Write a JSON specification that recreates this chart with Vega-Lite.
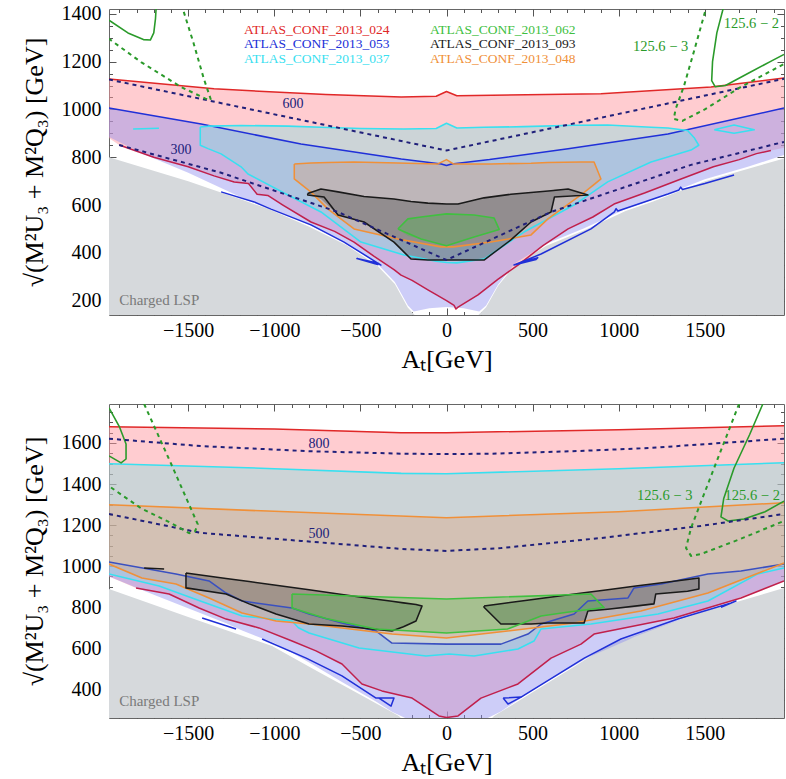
{
"$schema":"https://vega.github.io/schema/vega-lite/v6.json",
"padding":{"left":20,"top":3,"right":0,"bottom":0},
"background":"white",
"spacing":30,
"config":{"view":{"stroke":"#666","strokeWidth":1},"text":{"font":"Liberation Serif"}},
"datasets":{
"tA":[
{"s":"gray","x":-1960,"lo":140,"hi":800},{"s":"gray","x":-1500,"lo":140,"hi":700},{"s":"gray","x":-1200,"lo":140,"hi":625},{"s":"gray","x":-1040,"lo":140,"hi":585},{"s":"gray","x":-800,"lo":140,"hi":510},{"s":"gray","x":-580,"lo":140,"hi":432},{"s":"gray","x":-400,"lo":140,"hi":345},{"s":"gray","x":-300,"lo":140,"hi":270},{"s":"gray","x":-224,"lo":140,"hi":170},{"s":"gray","x":-185,"lo":140,"hi":140},{"s":"gray","x":185,"lo":140,"hi":140},{"s":"gray","x":230,"lo":140,"hi":172},{"s":"gray","x":300,"lo":140,"hi":262},{"s":"gray","x":400,"lo":140,"hi":350},{"s":"gray","x":580,"lo":140,"hi":430},{"s":"gray","x":800,"lo":140,"hi":495},{"s":"gray","x":1040,"lo":140,"hi":575},{"s":"gray","x":1200,"lo":140,"hi":615},{"s":"gray","x":1500,"lo":140,"hi":700},{"s":"gray","x":1960,"lo":140,"hi":795},
{"s":"red","x":-1960,"lo":880,"hi":1127},{"s":"red","x":-1901,"lo":851,"hi":1123},{"s":"red","x":-1700,"lo":800,"hi":1110},{"s":"red","x":-1500,"lo":760,"hi":1096},{"s":"red","x":-1350,"lo":722,"hi":1086},{"s":"red","x":-1233,"lo":696,"hi":1082},{"s":"red","x":-1150,"lo":690,"hi":1079},{"s":"red","x":-1100,"lo":645,"hi":1077},{"s":"red","x":-1038,"lo":640,"hi":1075},{"s":"red","x":-950,"lo":600,"hi":1071},{"s":"red","x":-787,"lo":529,"hi":1065},{"s":"red","x":-650,"lo":490,"hi":1061},{"s":"red","x":-537,"lo":445,"hi":1058},{"s":"red","x":-420,"lo":385,"hi":1055},{"s":"red","x":-305,"lo":330,"hi":1053},{"s":"red","x":-264,"lo":307,"hi":1052},{"s":"red","x":-200,"lo":285,"hi":1053},{"s":"red","x":-108,"lo":245,"hi":1054},{"s":"red","x":-60,"lo":225,"hi":1055},{"s":"red","x":0,"lo":200,"hi":1075},{"s":"red","x":44,"lo":180,"hi":1060},{"s":"red","x":55,"lo":165,"hi":1058},{"s":"red","x":67,"lo":173,"hi":1057},{"s":"red","x":183,"lo":224,"hi":1058},{"s":"red","x":300,"lo":290,"hi":1059},{"s":"red","x":415,"lo":349,"hi":1060},{"s":"red","x":560,"lo":430,"hi":1061},{"s":"red","x":706,"lo":500,"hi":1063},{"s":"red","x":850,"lo":550,"hi":1065},{"s":"red","x":973,"lo":604,"hi":1068},{"s":"red","x":1150,"lo":650,"hi":1076},{"s":"red","x":1362,"lo":709,"hi":1086},{"s":"red","x":1550,"lo":760,"hi":1095},{"s":"red","x":1700,"lo":790,"hi":1108},{"s":"red","x":1800,"lo":815,"hi":1117},{"s":"red","x":1884,"lo":828,"hi":1124},{"s":"red","x":1960,"lo":840,"hi":1131},
{"s":"lav","x":-1960,"lo":885,"hi":1006},{"s":"lav","x":-1750,"lo":810,"hi":980},{"s":"lav","x":-1500,"lo":735,"hi":948},{"s":"lav","x":-1200,"lo":635,"hi":906},{"s":"lav","x":-1040,"lo":593,"hi":883},{"s":"lav","x":-800,"lo":518,"hi":850},{"s":"lav","x":-580,"lo":440,"hi":827},{"s":"lav","x":-400,"lo":353,"hi":808},{"s":"lav","x":-300,"lo":278,"hi":797},{"s":"lav","x":-224,"lo":180,"hi":790},{"s":"lav","x":-190,"lo":155,"hi":786},{"s":"lav","x":-100,"lo":168,"hi":778},{"s":"lav","x":0,"lo":173,"hi":765},{"s":"lav","x":100,"lo":168,"hi":777},{"s":"lav","x":190,"lo":155,"hi":785},{"s":"lav","x":230,"lo":180,"hi":788},{"s":"lav","x":300,"lo":268,"hi":794},{"s":"lav","x":400,"lo":358,"hi":803},{"s":"lav","x":580,"lo":438,"hi":824},{"s":"lav","x":800,"lo":503,"hi":845},{"s":"lav","x":1040,"lo":583,"hi":871},{"s":"lav","x":1200,"lo":623,"hi":888},{"s":"lav","x":1500,"lo":708,"hi":932},{"s":"lav","x":1750,"lo":760,"hi":972},{"s":"lav","x":1960,"lo":809,"hi":1006},
{"s":"cyan","x":-1430,"lo":850,"hi":926},{"s":"cyan","x":-1385,"lo":836,"hi":930},{"s":"cyan","x":-1309,"lo":814,"hi":932},{"s":"cyan","x":-1193,"lo":760,"hi":933},{"s":"cyan","x":-1153,"lo":730,"hi":933},{"s":"cyan","x":-921,"lo":642,"hi":930},{"s":"cyan","x":-729,"lo":571,"hi":925},{"s":"cyan","x":-497,"lo":445,"hi":920},{"s":"cyan","x":-247,"lo":391,"hi":918},{"s":"cyan","x":-60,"lo":365,"hi":920},{"s":"cyan","x":0,"lo":360,"hi":942},{"s":"cyan","x":60,"lo":358,"hi":922},{"s":"cyan","x":218,"lo":374,"hi":925},{"s":"cyan","x":450,"lo":487,"hi":928},{"s":"cyan","x":740,"lo":600,"hi":934},{"s":"cyan","x":936,"lo":697,"hi":935},{"s":"cyan","x":1188,"lo":780,"hi":925},{"s":"cyan","x":1286,"lo":806,"hi":922},{"s":"cyan","x":1400,"lo":826,"hi":912},{"s":"cyan","x":1440,"lo":835,"hi":880},{"s":"cyan","x":1465,"lo":850,"hi":850},
{"s":"orange","x":-884,"lo":709,"hi":772},{"s":"orange","x":-787,"lo":654,"hi":776},{"s":"orange","x":-688,"lo":583,"hi":778},{"s":"orange","x":-537,"lo":500,"hi":780},{"s":"orange","x":-282,"lo":458,"hi":776},{"s":"orange","x":-50,"lo":430,"hi":772},{"s":"orange","x":0,"lo":425,"hi":790},{"s":"orange","x":40,"lo":425,"hi":772},{"s":"orange","x":258,"lo":445,"hi":772},{"s":"orange","x":491,"lo":475,"hi":775},{"s":"orange","x":589,"lo":542,"hi":778},{"s":"orange","x":781,"lo":642,"hi":780},{"s":"orange","x":857,"lo":680,"hi":780},{"s":"orange","x":897,"lo":705,"hi":712},
{"s":"black","x":-806,"lo":642,"hi":648},{"s":"black","x":-729,"lo":625,"hi":667},{"s":"black","x":-630,"lo":558,"hi":655},{"s":"black","x":-479,"lo":529,"hi":636},{"s":"black","x":-305,"lo":445,"hi":625},{"s":"black","x":-206,"lo":374,"hi":615},{"s":"black","x":-108,"lo":370,"hi":608},{"s":"black","x":0,"lo":370,"hi":604},{"s":"black","x":67,"lo":370,"hi":604},{"s":"black","x":218,"lo":370,"hi":630},{"s":"black","x":374,"lo":454,"hi":645},{"s":"black","x":491,"lo":529,"hi":652},{"s":"black","x":607,"lo":571,"hi":660},{"s":"black","x":627,"lo":634,"hi":664},{"s":"black","x":706,"lo":640,"hi":667},{"s":"black","x":821,"lo":642,"hi":644},
{"s":"green","x":-282,"lo":500,"hi":505},{"s":"green","x":-224,"lo":470,"hi":542},{"s":"green","x":-148,"lo":458,"hi":550},{"s":"green","x":0,"lo":430,"hi":563},{"s":"green","x":160,"lo":466,"hi":558},{"s":"green","x":276,"lo":490,"hi":546},{"s":"green","x":306,"lo":496,"hi":500}
],
"tL":[
{"id":"redU","c":"red","x":-1960,"y":1127},{"id":"redU","c":"red","x":-1350,"y":1086},{"id":"redU","c":"red","x":-700,"y":1062},{"id":"redU","c":"red","x":-263,"y":1052},{"id":"redU","c":"red","x":-60,"y":1055},{"id":"redU","c":"red","x":0,"y":1075},{"id":"redU","c":"red","x":60,"y":1057},{"id":"redU","c":"red","x":897,"y":1065},{"id":"redU","c":"red","x":1536,"y":1094},{"id":"redU","c":"red","x":1960,"y":1131},
{"id":"crim","c":"crimson","x":-1901,"y":851},{"id":"crim","c":"crimson","x":-1700,"y":800},{"id":"crim","c":"crimson","x":-1500,"y":760},{"id":"crim","c":"crimson","x":-1350,"y":722},{"id":"crim","c":"crimson","x":-1233,"y":696},{"id":"crim","c":"crimson","x":-1150,"y":690},{"id":"crim","c":"crimson","x":-1100,"y":645},{"id":"crim","c":"crimson","x":-1038,"y":640},{"id":"crim","c":"crimson","x":-950,"y":600},{"id":"crim","c":"crimson","x":-787,"y":529},{"id":"crim","c":"crimson","x":-650,"y":490},{"id":"crim","c":"crimson","x":-537,"y":445},{"id":"crim","c":"crimson","x":-420,"y":385},{"id":"crim","c":"crimson","x":-305,"y":330},{"id":"crim","c":"crimson","x":-264,"y":307},{"id":"crim","c":"crimson","x":-200,"y":285},{"id":"crim","c":"crimson","x":-108,"y":245},{"id":"crim","c":"crimson","x":-60,"y":225},{"id":"crim","c":"crimson","x":0,"y":200},{"id":"crim","c":"crimson","x":44,"y":180},{"id":"crim","c":"crimson","x":55,"y":165},{"id":"crim","c":"crimson","x":67,"y":173},{"id":"crim","c":"crimson","x":183,"y":224},{"id":"crim","c":"crimson","x":300,"y":290},{"id":"crim","c":"crimson","x":415,"y":349},{"id":"crim","c":"crimson","x":560,"y":430},{"id":"crim","c":"crimson","x":706,"y":500},{"id":"crim","c":"crimson","x":850,"y":550},{"id":"crim","c":"crimson","x":973,"y":604},{"id":"crim","c":"crimson","x":1150,"y":650},{"id":"crim","c":"crimson","x":1362,"y":709},{"id":"crim","c":"crimson","x":1550,"y":760},{"id":"crim","c":"crimson","x":1700,"y":790},{"id":"crim","c":"crimson","x":1800,"y":815},{"id":"crim","c":"crimson","x":1884,"y":828},
{"id":"blueU","c":"blue","x":-1960,"y":1006},{"id":"blueU","c":"blue","x":-1425,"y":939},{"id":"blueU","c":"blue","x":-845,"y":855},{"id":"blueU","c":"blue","x":-263,"y":793},{"id":"blueU","c":"blue","x":-30,"y":772},{"id":"blueU","c":"blue","x":0,"y":765},{"id":"blueU","c":"blue","x":30,"y":772},{"id":"blueU","c":"blue","x":250,"y":790},{"id":"blueU","c":"blue","x":706,"y":835},{"id":"blueU","c":"blue","x":1286,"y":897},{"id":"blueU","c":"blue","x":1960,"y":1006},
{"id":"blueL1","c":"blue","x":-1309,"y":655},{"id":"blueL1","c":"blue","x":-1117,"y":613},{"id":"blueL1","c":"blue","x":-1019,"y":583},{"id":"blueL1","c":"blue","x":-787,"y":517},{"id":"blueL1","c":"blue","x":-595,"y":445},{"id":"blueL1","c":"blue","x":-381,"y":349},{"id":"blueL1","c":"blue","x":-400,"y":358},{"id":"blueL1","c":"blue","x":-520,"y":376},{"id":"blueL1","c":"blue","x":-395,"y":350},
{"id":"blueL2","c":"blue","x":400,"y":352},{"id":"blueL2","c":"blue","x":530,"y":380},{"id":"blueL2","c":"blue","x":520,"y":372},{"id":"blueL2","c":"blue","x":392,"y":349},{"id":"blueL2","c":"blue","x":549,"y":395},{"id":"blueL2","c":"blue","x":839,"y":500},{"id":"blueL2","c":"blue","x":975,"y":571},{"id":"blueL2","c":"blue","x":985,"y":585},{"id":"blueL2","c":"blue","x":995,"y":575},{"id":"blueL2","c":"blue","x":1286,"y":646},{"id":"blueL2","c":"blue","x":1350,"y":663},{"id":"blueL2","c":"blue","x":1360,"y":675},{"id":"blueL2","c":"blue","x":1370,"y":665},{"id":"blueL2","c":"blue","x":1500,"y":690},{"id":"blueL2","c":"blue","x":1670,"y":726},
{"id":"cy","c":"cyan","x":-1430,"y":926},{"id":"cy","c":"cyan","x":-1385,"y":930},{"id":"cy","c":"cyan","x":-1193,"y":933},{"id":"cy","c":"cyan","x":-921,"y":930},{"id":"cy","c":"cyan","x":-729,"y":925},{"id":"cy","c":"cyan","x":-497,"y":920},{"id":"cy","c":"cyan","x":-247,"y":918},{"id":"cy","c":"cyan","x":-60,"y":920},{"id":"cy","c":"cyan","x":0,"y":942},{"id":"cy","c":"cyan","x":60,"y":922},{"id":"cy","c":"cyan","x":218,"y":925},{"id":"cy","c":"cyan","x":450,"y":928},{"id":"cy","c":"cyan","x":740,"y":934},{"id":"cy","c":"cyan","x":936,"y":935},{"id":"cy","c":"cyan","x":1188,"y":925},{"id":"cy","c":"cyan","x":1286,"y":922},{"id":"cy","c":"cyan","x":1400,"y":912},{"id":"cy","c":"cyan","x":1440,"y":880},{"id":"cy","c":"cyan","x":1465,"y":850},{"id":"cy","c":"cyan","x":1420,"y":830},{"id":"cy","c":"cyan","x":1188,"y":780},{"id":"cy","c":"cyan","x":936,"y":697},{"id":"cy","c":"cyan","x":740,"y":600},{"id":"cy","c":"cyan","x":450,"y":487},{"id":"cy","c":"cyan","x":218,"y":374},{"id":"cy","c":"cyan","x":60,"y":358},{"id":"cy","c":"cyan","x":0,"y":360},{"id":"cy","c":"cyan","x":-60,"y":365},{"id":"cy","c":"cyan","x":-247,"y":391},{"id":"cy","c":"cyan","x":-497,"y":445},{"id":"cy","c":"cyan","x":-729,"y":571},{"id":"cy","c":"cyan","x":-921,"y":642},{"id":"cy","c":"cyan","x":-1153,"y":730},{"id":"cy","c":"cyan","x":-1193,"y":760},{"id":"cy","c":"cyan","x":-1309,"y":814},{"id":"cy","c":"cyan","x":-1385,"y":836},{"id":"cy","c":"cyan","x":-1430,"y":850},{"id":"cy","c":"cyan","x":-1430,"y":926},
{"id":"cyI1","c":"cyan","x":-1820,"y":918},{"id":"cyI1","c":"cyan","x":-1670,"y":921},
{"id":"cyI2","c":"cyan","x":1555,"y":915},{"id":"cyI2","c":"cyan","x":1670,"y":935},{"id":"cyI2","c":"cyan","x":1787,"y":915},{"id":"cyI2","c":"cyan","x":1670,"y":900},{"id":"cyI2","c":"cyan","x":1555,"y":915},
{"id":"or","c":"orange","x":-884,"y":772},{"id":"or","c":"orange","x":-787,"y":776},{"id":"or","c":"orange","x":-688,"y":778},{"id":"or","c":"orange","x":-537,"y":780},{"id":"or","c":"orange","x":-282,"y":776},{"id":"or","c":"orange","x":-50,"y":772},{"id":"or","c":"orange","x":0,"y":790},{"id":"or","c":"orange","x":40,"y":772},{"id":"or","c":"orange","x":258,"y":772},{"id":"or","c":"orange","x":491,"y":775},{"id":"or","c":"orange","x":589,"y":778},{"id":"or","c":"orange","x":781,"y":780},{"id":"or","c":"orange","x":857,"y":780},{"id":"or","c":"orange","x":897,"y":709},{"id":"or","c":"orange","x":781,"y":642},{"id":"or","c":"orange","x":589,"y":542},{"id":"or","c":"orange","x":491,"y":475},{"id":"or","c":"orange","x":258,"y":445},{"id":"or","c":"orange","x":40,"y":425},{"id":"or","c":"orange","x":-32,"y":425},{"id":"or","c":"orange","x":-282,"y":458},{"id":"or","c":"orange","x":-537,"y":500},{"id":"or","c":"orange","x":-688,"y":583},{"id":"or","c":"orange","x":-787,"y":654},{"id":"or","c":"orange","x":-884,"y":709},{"id":"or","c":"orange","x":-884,"y":772},
{"id":"bk","c":"black","x":-806,"y":648},{"id":"bk","c":"black","x":-729,"y":667},{"id":"bk","c":"black","x":-630,"y":655},{"id":"bk","c":"black","x":-479,"y":636},{"id":"bk","c":"black","x":-305,"y":625},{"id":"bk","c":"black","x":-206,"y":615},{"id":"bk","c":"black","x":-108,"y":608},{"id":"bk","c":"black","x":0,"y":604},{"id":"bk","c":"black","x":67,"y":604},{"id":"bk","c":"black","x":218,"y":630},{"id":"bk","c":"black","x":374,"y":645},{"id":"bk","c":"black","x":491,"y":652},{"id":"bk","c":"black","x":607,"y":660},{"id":"bk","c":"black","x":706,"y":667},{"id":"bk","c":"black","x":821,"y":642},{"id":"bk","c":"black","x":627,"y":634},{"id":"bk","c":"black","x":607,"y":571},{"id":"bk","c":"black","x":491,"y":529},{"id":"bk","c":"black","x":374,"y":454},{"id":"bk","c":"black","x":218,"y":370},{"id":"bk","c":"black","x":67,"y":370},{"id":"bk","c":"black","x":-108,"y":370},{"id":"bk","c":"black","x":-206,"y":374},{"id":"bk","c":"black","x":-305,"y":445},{"id":"bk","c":"black","x":-479,"y":529},{"id":"bk","c":"black","x":-630,"y":558},{"id":"bk","c":"black","x":-711,"y":634},{"id":"bk","c":"black","x":-806,"y":642},{"id":"bk","c":"black","x":-806,"y":648},
{"id":"gr","c":"green","x":-282,"y":500},{"id":"gr","c":"green","x":-224,"y":542},{"id":"gr","c":"green","x":-148,"y":550},{"id":"gr","c":"green","x":0,"y":563},{"id":"gr","c":"green","x":160,"y":558},{"id":"gr","c":"green","x":276,"y":546},{"id":"gr","c":"green","x":306,"y":498},{"id":"gr","c":"green","x":160,"y":466},{"id":"gr","c":"green","x":0,"y":430},{"id":"gr","c":"green","x":-148,"y":458},{"id":"gr","c":"green","x":-282,"y":500},
{"id":"n600","c":"navy","x":-1960,"y":1125},{"id":"n600","c":"navy","x":0,"y":828},{"id":"n600","c":"navy","x":1960,"y":1128},
{"id":"n300","c":"navy","x":-1901,"y":851},{"id":"n300","c":"navy","x":-1309,"y":735},{"id":"n300","c":"navy","x":-631,"y":571},{"id":"n300","c":"navy","x":0,"y":370},{"id":"n300","c":"navy","x":607,"y":571},{"id":"n300","c":"navy","x":1420,"y":768},{"id":"n300","c":"navy","x":1960,"y":864},
{"id":"h2L","c":"hg2","x":-1960,"y":1373},{"id":"h2L","c":"hg2","x":-1850,"y":1320},{"id":"h2L","c":"hg2","x":-1760,"y":1292},{"id":"h2L","c":"hg2","x":-1720,"y":1290},{"id":"h2L","c":"hg2","x":-1700,"y":1320},{"id":"h2L","c":"hg2","x":-1690,"y":1380},{"id":"h2L","c":"hg2","x":-1685,"y":1440},
{"id":"h3L","c":"hg3","x":-1540,"y":1440},{"id":"h3L","c":"hg3","x":-1531,"y":1420},{"id":"h3L","c":"hg3","x":-1470,"y":1280},{"id":"h3L","c":"hg3","x":-1410,"y":1130},{"id":"h3L","c":"hg3","x":-1368,"y":1040},{"id":"h3L","c":"hg3","x":-1400,"y":1045},{"id":"h3L","c":"hg3","x":-1542,"y":1094},{"id":"h3L","c":"hg3","x":-1774,"y":1198},{"id":"h3L","c":"hg3","x":-1960,"y":1295},
{"id":"h2R","c":"hg2","x":1612,"y":1440},{"id":"h2R","c":"hg2","x":1606,"y":1420},{"id":"h2R","c":"hg2","x":1570,"y":1320},{"id":"h2R","c":"hg2","x":1545,"y":1200},{"id":"h2R","c":"hg2","x":1540,"y":1120},{"id":"h2R","c":"hg2","x":1560,"y":1095},{"id":"h2R","c":"hg2","x":1620,"y":1100},{"id":"h2R","c":"hg2","x":1750,"y":1150},{"id":"h2R","c":"hg2","x":1880,"y":1200},{"id":"h2R","c":"hg2","x":1960,"y":1230},
{"id":"h3R","c":"hg3","x":1512,"y":1440},{"id":"h3R","c":"hg3","x":1506,"y":1420},{"id":"h3R","c":"hg3","x":1440,"y":1250},{"id":"h3R","c":"hg3","x":1380,"y":1100},{"id":"h3R","c":"hg3","x":1330,"y":1000},{"id":"h3R","c":"hg3","x":1320,"y":960},{"id":"h3R","c":"hg3","x":1370,"y":952},{"id":"h3R","c":"hg3","x":1500,"y":1000},{"id":"h3R","c":"hg3","x":1700,"y":1090},{"id":"h3R","c":"hg3","x":1960,"y":1190}
],
"tT":[
{"t":"ATLAS_CONF_2013_024","c":"red","k":"leg","x":-1176,"y":1332},
{"t":"ATLAS_CONF_2013_053","c":"blue","k":"leg","x":-1176,"y":1272},
{"t":"ATLAS_CONF_2013_037","c":"cyan","k":"leg","x":-1176,"y":1212},
{"t":"ATLAS_CONF_2013_062","c":"green","k":"leg","x":-96,"y":1332},
{"t":"ATLAS_CONF_2013_093","c":"black","k":"leg","x":-96,"y":1272},
{"t":"ATLAS_CONF_2013_048","c":"orange","k":"leg","x":-96,"y":1212},
{"t":"600","c":"navy","k":"lab","x":-952,"y":1023},
{"t":"300","c":"navy","k":"lab","x":-1603,"y":830},
{"t":"125.6 − 2","c":"hg2","k":"hg","x":1610,"y":1358},
{"t":"125.6 − 3","c":"hg3","k":"hg","x":1083,"y":1261},
{"t":"Charged LSP","c":"lsp","k":"lsp","x":-1901,"y":203}
],
"bA":[
{"s":"gray","x":-1960,"lo":260,"hi":889},{"s":"gray","x":-1500,"lo":260,"hi":752},{"s":"gray","x":-1013,"lo":260,"hi":611},{"s":"gray","x":-750,"lo":260,"hi":488},{"s":"gray","x":-500,"lo":260,"hi":373},{"s":"gray","x":-276,"lo":260,"hi":270},{"s":"gray","x":-265,"lo":260,"hi":260},{"s":"gray","x":265,"lo":260,"hi":260},{"s":"gray","x":276,"lo":260,"hi":270},{"s":"gray","x":500,"lo":260,"hi":385},{"s":"gray","x":750,"lo":260,"hi":515},{"s":"gray","x":936,"lo":260,"hi":615},{"s":"gray","x":1200,"lo":260,"hi":695},{"s":"gray","x":1500,"lo":260,"hi":780},{"s":"gray","x":1960,"lo":260,"hi":893},
{"s":"red","x":-1960,"lo":950,"hi":1679},{"s":"red","x":-1803,"lo":894,"hi":1677},{"s":"red","x":-1611,"lo":864,"hi":1675},{"s":"red","x":-1437,"lo":796,"hi":1673},{"s":"red","x":-1280,"lo":742,"hi":1671},{"s":"red","x":-1089,"lo":699,"hi":1669},{"s":"red","x":-897,"lo":635,"hi":1666},{"s":"red","x":-758,"lo":587,"hi":1664},{"s":"red","x":-607,"lo":523,"hi":1661},{"s":"red","x":-491,"lo":426,"hi":1658},{"s":"red","x":-375,"lo":392,"hi":1655},{"s":"red","x":-200,"lo":357,"hi":1652},{"s":"red","x":-44,"lo":270,"hi":1650},{"s":"red","x":0,"lo":262,"hi":1650},{"s":"red","x":67,"lo":270,"hi":1650},{"s":"red","x":200,"lo":357,"hi":1652},{"s":"red","x":415,"lo":426,"hi":1655},{"s":"red","x":607,"lo":552,"hi":1659},{"s":"red","x":781,"lo":620,"hi":1662},{"s":"red","x":857,"lo":669,"hi":1663},{"s":"red","x":1031,"lo":699,"hi":1666},{"s":"red","x":1321,"lo":747,"hi":1672},{"s":"red","x":1710,"lo":845,"hi":1679},{"s":"red","x":1960,"lo":928,"hi":1684},
{"s":"lav","x":-1960,"lo":950,"hi":1020},{"s":"lav","x":-1700,"lo":860,"hi":982},{"s":"lav","x":-1571,"lo":818,"hi":962},{"s":"lav","x":-1379,"lo":755,"hi":928},{"s":"lav","x":-1280,"lo":722,"hi":869},{"s":"lav","x":-1187,"lo":686,"hi":830},{"s":"lav","x":-1000,"lo":625,"hi":808},{"s":"lav","x":-897,"lo":578,"hi":796},{"s":"lav","x":-798,"lo":530,"hi":767},{"s":"lav","x":-607,"lo":435,"hi":723},{"s":"lav","x":-410,"lo":340,"hi":684},{"s":"lav","x":-317,"lo":290,"hi":625},{"s":"lav","x":-240,"lo":260,"hi":622},{"s":"lav","x":0,"lo":260,"hi":620},{"s":"lav","x":240,"lo":260,"hi":620},{"s":"lav","x":316,"lo":292,"hi":620},{"s":"lav","x":473,"lo":380,"hi":669},{"s":"lav","x":549,"lo":420,"hi":718},{"s":"lav","x":741,"lo":515,"hi":767},{"s":"lav","x":821,"lo":555,"hi":830},{"s":"lav","x":1054,"lo":640,"hi":845},{"s":"lav","x":1089,"lo":655,"hi":894},{"s":"lav","x":1246,"lo":705,"hi":913},{"s":"lav","x":1518,"lo":790,"hi":962},{"s":"lav","x":1710,"lo":850,"hi":976},{"s":"lav","x":1960,"lo":928,"hi":1010},
{"s":"cyan","x":-1960,"lo":962,"hi":1499},{"s":"cyan","x":-1669,"lo":903,"hi":1492},{"s":"cyan","x":-1478,"lo":845,"hi":1487},{"s":"cyan","x":-1187,"lo":757,"hi":1479},{"s":"cyan","x":-897,"lo":733,"hi":1472},{"s":"cyan","x":-860,"lo":700,"hi":1471},{"s":"cyan","x":-798,"lo":674,"hi":1469},{"s":"cyan","x":-508,"lo":601,"hi":1462},{"s":"cyan","x":-119,"lo":562,"hi":1452},{"s":"cyan","x":15,"lo":572,"hi":1450},{"s":"cyan","x":160,"lo":562,"hi":1452},{"s":"cyan","x":415,"lo":596,"hi":1458},{"s":"cyan","x":508,"lo":635,"hi":1461},{"s":"cyan","x":549,"lo":694,"hi":1462},{"s":"cyan","x":839,"lo":718,"hi":1470},{"s":"cyan","x":1228,"lo":767,"hi":1480},{"s":"cyan","x":1518,"lo":830,"hi":1490},{"s":"cyan","x":1808,"lo":962,"hi":1500},{"s":"cyan","x":1960,"lo":991,"hi":1504},
{"s":"orange","x":-1960,"lo":1010,"hi":1299},{"s":"orange","x":-1769,"lo":942,"hi":1294},{"s":"orange","x":-1571,"lo":913,"hi":1288},{"s":"orange","x":-1379,"lo":845,"hi":1282},{"s":"orange","x":-1187,"lo":772,"hi":1275},{"s":"orange","x":-990,"lo":733,"hi":1267},{"s":"orange","x":-798,"lo":718,"hi":1261},{"s":"orange","x":-607,"lo":699,"hi":1254},{"s":"orange","x":-317,"lo":669,"hi":1243},{"s":"orange","x":0,"lo":650,"hi":1236},{"s":"orange","x":355,"lo":684,"hi":1244},{"s":"orange","x":741,"lo":723,"hi":1256},{"s":"orange","x":1129,"lo":781,"hi":1270},{"s":"orange","x":1518,"lo":869,"hi":1288},{"s":"orange","x":1960,"lo":1015,"hi":1309},
{"s":"b1","x":-1513,"lo":894,"hi":967},{"s":"b1","x":-1280,"lo":864,"hi":940},{"s":"b1","x":-1146,"lo":816,"hi":925},{"s":"b1","x":-990,"lo":767,"hi":907},{"s":"b1","x":-798,"lo":718,"hi":885},{"s":"b1","x":-607,"lo":708,"hi":862},{"s":"b1","x":-450,"lo":695,"hi":844},{"s":"b1","x":-317,"lo":684,"hi":829},{"s":"b1","x":-250,"lo":705,"hi":821},{"s":"b1","x":-177,"lo":733,"hi":813},{"s":"b1","x":-142,"lo":800,"hi":806},
{"s":"b2","x":218,"lo":800,"hi":806},{"s":"b2","x":316,"lo":718,"hi":817},{"s":"b2","x":491,"lo":718,"hi":836},{"s":"b2","x":589,"lo":723,"hi":847},{"s":"b2","x":799,"lo":723,"hi":870},{"s":"b2","x":821,"lo":781,"hi":872},{"s":"b2","x":936,"lo":790,"hi":885},{"s":"b2","x":1100,"lo":800,"hi":903},{"s":"b2","x":1205,"lo":816,"hi":914},{"s":"b2","x":1215,"lo":864,"hi":915},{"s":"b2","x":1400,"lo":878,"hi":935},{"s":"b2","x":1466,"lo":889,"hi":942},
{"s":"green","x":-897,"lo":796,"hi":864},{"s":"green","x":-700,"lo":745,"hi":858},{"s":"green","x":-409,"lo":694,"hi":850},{"s":"green","x":0,"lo":674,"hi":840},{"s":"green","x":355,"lo":694,"hi":846},{"s":"green","x":549,"lo":757,"hi":855},{"s":"green","x":700,"lo":775,"hi":860},{"s":"green","x":839,"lo":782,"hi":864},{"s":"green","x":915,"lo":796,"hi":798}
],
"bL":[
{"id":"redU","c":"red","x":-1960,"y":1679},{"id":"redU","c":"red","x":-1000,"y":1668},{"id":"redU","c":"red","x":-264,"y":1650},{"id":"redU","c":"red","x":0,"y":1650},{"id":"redU","c":"red","x":1000,"y":1665},{"id":"redU","c":"red","x":1960,"y":1684},
{"id":"crim","c":"crimson","x":-1803,"y":894},{"id":"crim","c":"crimson","x":-1611,"y":864},{"id":"crim","c":"crimson","x":-1437,"y":796},{"id":"crim","c":"crimson","x":-1280,"y":742},{"id":"crim","c":"crimson","x":-1089,"y":699},{"id":"crim","c":"crimson","x":-897,"y":635},{"id":"crim","c":"crimson","x":-758,"y":587},{"id":"crim","c":"crimson","x":-607,"y":523},{"id":"crim","c":"crimson","x":-491,"y":426},{"id":"crim","c":"crimson","x":-375,"y":392},{"id":"crim","c":"crimson","x":-200,"y":357},{"id":"crim","c":"crimson","x":-44,"y":270},{"id":"crim","c":"crimson","x":0,"y":262},{"id":"crim","c":"crimson","x":67,"y":270},{"id":"crim","c":"crimson","x":200,"y":357},{"id":"crim","c":"crimson","x":415,"y":426},{"id":"crim","c":"crimson","x":607,"y":552},{"id":"crim","c":"crimson","x":781,"y":620},{"id":"crim","c":"crimson","x":857,"y":669},{"id":"crim","c":"crimson","x":1031,"y":699},{"id":"crim","c":"crimson","x":1321,"y":747},{"id":"crim","c":"crimson","x":1710,"y":845},{"id":"crim","c":"crimson","x":1960,"y":928},
{"id":"blueU","c":"blue2","x":-1960,"y":1020},{"id":"blueU","c":"blue2","x":-1571,"y":962},{"id":"blueU","c":"blue2","x":-1379,"y":928},{"id":"blueU","c":"blue2","x":-1280,"y":869},{"id":"blueU","c":"blue2","x":-1187,"y":830},{"id":"blueU","c":"blue2","x":-897,"y":796},{"id":"blueU","c":"blue2","x":-798,"y":767},{"id":"blueU","c":"blue2","x":-607,"y":723},{"id":"blueU","c":"blue2","x":-410,"y":684},{"id":"blueU","c":"blue2","x":-317,"y":625},{"id":"blueU","c":"blue2","x":0,"y":620},{"id":"blueU","c":"blue2","x":316,"y":620},{"id":"blueU","c":"blue2","x":473,"y":669},{"id":"blueU","c":"blue2","x":549,"y":718},{"id":"blueU","c":"blue2","x":741,"y":767},{"id":"blueU","c":"blue2","x":821,"y":830},{"id":"blueU","c":"blue2","x":1054,"y":845},{"id":"blueU","c":"blue2","x":1089,"y":894},{"id":"blueU","c":"blue2","x":1246,"y":913},{"id":"blueU","c":"blue2","x":1518,"y":962},{"id":"blueU","c":"blue2","x":1710,"y":976},{"id":"blueU","c":"blue2","x":1960,"y":1010},
{"id":"bl1","c":"blue","x":-1419,"y":747},{"id":"bl1","c":"blue","x":-1222,"y":694},
{"id":"bl2","c":"blue","x":-1071,"y":645},{"id":"bl2","c":"blue","x":-815,"y":552},{"id":"bl2","c":"blue","x":-607,"y":465},{"id":"bl2","c":"blue","x":-409,"y":357},{"id":"bl2","c":"blue","x":-305,"y":357},{"id":"bl2","c":"blue","x":-322,"y":318},{"id":"bl2","c":"blue","x":-392,"y":357},
{"id":"bl3","c":"blue","x":329,"y":357},{"id":"bl3","c":"blue","x":433,"y":362},{"id":"bl3","c":"blue","x":357,"y":328},{"id":"bl3","c":"blue","x":329,"y":357},
{"id":"bl4","c":"blue","x":433,"y":362},{"id":"bl4","c":"blue","x":800,"y":552},{"id":"bl4","c":"blue","x":1013,"y":645},{"id":"bl4","c":"blue","x":1343,"y":742},{"id":"bl4","c":"blue","x":1652,"y":820},{"id":"bl4","c":"blue","x":1681,"y":830},{"id":"bl4","c":"blue","x":1594,"y":800},
{"id":"cyU","c":"cyan","x":-1960,"y":1499},{"id":"cyU","c":"cyan","x":-1000,"y":1475},{"id":"cyU","c":"cyan","x":-264,"y":1452},{"id":"cyU","c":"cyan","x":0,"y":1450},{"id":"cyU","c":"cyan","x":1000,"y":1475},{"id":"cyU","c":"cyan","x":1960,"y":1504},
{"id":"cyL","c":"cyan","x":-1960,"y":962},{"id":"cyL","c":"cyan","x":-1669,"y":903},{"id":"cyL","c":"cyan","x":-1478,"y":845},{"id":"cyL","c":"cyan","x":-1187,"y":757},{"id":"cyL","c":"cyan","x":-897,"y":733},{"id":"cyL","c":"cyan","x":-860,"y":700},{"id":"cyL","c":"cyan","x":-798,"y":674},{"id":"cyL","c":"cyan","x":-508,"y":601},{"id":"cyL","c":"cyan","x":-119,"y":562},{"id":"cyL","c":"cyan","x":15,"y":572},{"id":"cyL","c":"cyan","x":160,"y":562},{"id":"cyL","c":"cyan","x":415,"y":596},{"id":"cyL","c":"cyan","x":508,"y":635},{"id":"cyL","c":"cyan","x":549,"y":694},{"id":"cyL","c":"cyan","x":839,"y":718},{"id":"cyL","c":"cyan","x":1228,"y":767},{"id":"cyL","c":"cyan","x":1518,"y":830},{"id":"cyL","c":"cyan","x":1808,"y":962},{"id":"cyL","c":"cyan","x":1960,"y":991},
{"id":"orU","c":"orange","x":-1960,"y":1299},{"id":"orU","c":"orange","x":-1000,"y":1267},{"id":"orU","c":"orange","x":0,"y":1236},{"id":"orU","c":"orange","x":1000,"y":1265},{"id":"orU","c":"orange","x":1960,"y":1309},
{"id":"orL","c":"orange","x":-1960,"y":1010},{"id":"orL","c":"orange","x":-1769,"y":942},{"id":"orL","c":"orange","x":-1571,"y":913},{"id":"orL","c":"orange","x":-1379,"y":845},{"id":"orL","c":"orange","x":-1187,"y":772},{"id":"orL","c":"orange","x":-990,"y":733},{"id":"orL","c":"orange","x":-798,"y":718},{"id":"orL","c":"orange","x":-607,"y":699},{"id":"orL","c":"orange","x":-317,"y":669},{"id":"orL","c":"orange","x":0,"y":650},{"id":"orL","c":"orange","x":355,"y":684},{"id":"orL","c":"orange","x":741,"y":723},{"id":"orL","c":"orange","x":1129,"y":781},{"id":"orL","c":"orange","x":1518,"y":869},{"id":"orL","c":"orange","x":1960,"y":1015},
{"id":"b1","c":"black","x":-1513,"y":967},{"id":"b1","c":"black","x":-1280,"y":940},{"id":"b1","c":"black","x":-1146,"y":925},{"id":"b1","c":"black","x":-990,"y":907},{"id":"b1","c":"black","x":-798,"y":885},{"id":"b1","c":"black","x":-607,"y":862},{"id":"b1","c":"black","x":-450,"y":844},{"id":"b1","c":"black","x":-317,"y":829},{"id":"b1","c":"black","x":-250,"y":821},{"id":"b1","c":"black","x":-177,"y":813},{"id":"b1","c":"black","x":-142,"y":806},{"id":"b1","c":"black","x":-177,"y":733},{"id":"b1","c":"black","x":-250,"y":705},{"id":"b1","c":"black","x":-317,"y":684},{"id":"b1","c":"black","x":-450,"y":695},{"id":"b1","c":"black","x":-607,"y":708},{"id":"b1","c":"black","x":-798,"y":718},{"id":"b1","c":"black","x":-990,"y":767},{"id":"b1","c":"black","x":-1146,"y":816},{"id":"b1","c":"black","x":-1280,"y":864},{"id":"b1","c":"black","x":-1513,"y":894},{"id":"b1","c":"black","x":-1513,"y":967},
{"id":"b2","c":"black","x":218,"y":806},{"id":"b2","c":"black","x":316,"y":817},{"id":"b2","c":"black","x":491,"y":836},{"id":"b2","c":"black","x":589,"y":847},{"id":"b2","c":"black","x":799,"y":870},{"id":"b2","c":"black","x":936,"y":885},{"id":"b2","c":"black","x":1100,"y":903},{"id":"b2","c":"black","x":1205,"y":914},{"id":"b2","c":"black","x":1400,"y":935},{"id":"b2","c":"black","x":1466,"y":942},{"id":"b2","c":"black","x":1466,"y":889},{"id":"b2","c":"black","x":1400,"y":878},{"id":"b2","c":"black","x":1215,"y":864},{"id":"b2","c":"black","x":1205,"y":816},{"id":"b2","c":"black","x":936,"y":790},{"id":"b2","c":"black","x":821,"y":781},{"id":"b2","c":"black","x":799,"y":723},{"id":"b2","c":"black","x":589,"y":723},{"id":"b2","c":"black","x":491,"y":718},{"id":"b2","c":"black","x":316,"y":718},{"id":"b2","c":"black","x":218,"y":800},{"id":"b2","c":"black","x":218,"y":806},
{"id":"b3","c":"black","x":-1756,"y":991},{"id":"b3","c":"black","x":-1640,"y":986},
{"id":"gr","c":"green","x":-897,"y":864},{"id":"gr","c":"green","x":0,"y":840},{"id":"gr","c":"green","x":839,"y":864},{"id":"gr","c":"green","x":915,"y":798},{"id":"gr","c":"green","x":700,"y":775},{"id":"gr","c":"green","x":549,"y":757},{"id":"gr","c":"green","x":355,"y":694},{"id":"gr","c":"green","x":0,"y":674},{"id":"gr","c":"green","x":-409,"y":694},{"id":"gr","c":"green","x":-700,"y":745},{"id":"gr","c":"green","x":-897,"y":796},{"id":"gr","c":"green","x":-897,"y":864},
{"id":"n800","c":"navy","x":-1960,"y":1621},{"id":"n800","c":"navy","x":-1426,"y":1585},{"id":"n800","c":"navy","x":-800,"y":1560},{"id":"n800","c":"navy","x":-264,"y":1548},{"id":"n800","c":"navy","x":0,"y":1546},{"id":"n800","c":"navy","x":264,"y":1548},{"id":"n800","c":"navy","x":800,"y":1562},{"id":"n800","c":"navy","x":1188,"y":1576},{"id":"n800","c":"navy","x":1426,"y":1590},{"id":"n800","c":"navy","x":1960,"y":1621},
{"id":"n500","c":"navy","x":-1960,"y":1254},{"id":"n500","c":"navy","x":-1426,"y":1162},{"id":"n500","c":"navy","x":-845,"y":1123},{"id":"n500","c":"navy","x":-264,"y":1084},{"id":"n500","c":"navy","x":0,"y":1074},{"id":"n500","c":"navy","x":316,"y":1088},{"id":"n500","c":"navy","x":897,"y":1137},{"id":"n500","c":"navy","x":1478,"y":1196},{"id":"n500","c":"navy","x":1960,"y":1254},
{"id":"h2L","c":"hg2","x":-1960,"y":1771},{"id":"h2L","c":"hg2","x":-1900,"y":1680},{"id":"h2L","c":"hg2","x":-1861,"y":1595},{"id":"h2L","c":"hg2","x":-1861,"y":1522},{"id":"h2L","c":"hg2","x":-1890,"y":1503},{"id":"h2L","c":"hg2","x":-1960,"y":1537},
{"id":"h3L","c":"hg3","x":-1756,"y":1790},{"id":"h3L","c":"hg3","x":-1600,"y":1500},{"id":"h3L","c":"hg3","x":-1445,"y":1205},{"id":"h3L","c":"hg3","x":-1460,"y":1170},{"id":"h3L","c":"hg3","x":-1494,"y":1161},{"id":"h3L","c":"hg3","x":-1600,"y":1210},{"id":"h3L","c":"hg3","x":-1774,"y":1282},{"id":"h3L","c":"hg3","x":-1960,"y":1390},
{"id":"h2R","c":"hg2","x":1837,"y":1790},{"id":"h2R","c":"hg2","x":1760,"y":1640},{"id":"h2R","c":"hg2","x":1670,"y":1478},{"id":"h2R","c":"hg2","x":1610,"y":1330},{"id":"h2R","c":"hg2","x":1594,"y":1240},{"id":"h2R","c":"hg2","x":1635,"y":1220},{"id":"h2R","c":"hg2","x":1728,"y":1230},{"id":"h2R","c":"hg2","x":1850,"y":1265},{"id":"h2R","c":"hg2","x":1960,"y":1317},
{"id":"h3R","c":"hg3","x":1699,"y":1790},{"id":"h3R","c":"hg3","x":1554,"y":1478},{"id":"h3R","c":"hg3","x":1420,"y":1186},{"id":"h3R","c":"hg3","x":1391,"y":1088},{"id":"h3R","c":"hg3","x":1420,"y":1050},{"id":"h3R","c":"hg3","x":1478,"y":1059},{"id":"h3R","c":"hg3","x":1700,"y":1130},{"id":"h3R","c":"hg3","x":1960,"y":1220}
],
"bT":[
{"t":"800","c":"navy","k":"lab","x":-801,"y":1595},
{"t":"500","c":"navy","k":"lab","x":-801,"y":1157},
{"t":"125.6 − 3","c":"hg3","k":"hg","x":1107,"y":1342},
{"t":"125.6 − 2","c":"hg2","k":"hg","x":1615,"y":1342},
{"t":"Charged LSP","c":"lsp","k":"lsp","x":-1901,"y":343}
]
},
"vconcat":[
{"width":675,"height":306,
"resolve":{"axis":{"x":"independent","y":"independent"}},
"layer":[
{"data":{"name":"tA"},"transform":[{"filter":"datum.s=='gray'"}],"mark":{"type":"area","fill":"#d6d9dc","clip":true},
"encoding":{"x":{"field":"x","type":"quantitative","scale":{"domain":[-1960,1960],"nice":false,"zero":false},
"axis":{"orient":"bottom","values":[-1500,-1000,-500,0,500,1000,1500],"format":"d","title":"Aₜ[GeV]","domain":false,"grid":false,"tickSize":-7,"tickColor":"#555","labelPadding":12,"labelFont":"Liberation Serif","labelFontSize":20,"labelColor":"#000","titleFont":"Liberation Serif","titleFontSize":26,"titleFontWeight":"normal","titleColor":"#000","titlePadding":6,"labelFlush":false,"labelOverlap":false}},
"y":{"field":"hi","type":"quantitative","scale":{"domain":[140,1420],"nice":false,"zero":false},
"axis":{"orient":"left","values":[200,400,600,800,1000,1200,1400],"format":"d","title":"√(M²U₃ + M²Q₃) [GeV]","domain":false,"grid":false,"tickSize":-7,"tickColor":"#555","labelPadding":15,"labelFont":"Liberation Serif","labelFontSize":20,"labelColor":"#000","titleFont":"Liberation Serif","titleFontSize":26,"titleFontWeight":"normal","titleColor":"#000","titlePadding":14,"labelFlush":false,"labelOverlap":false}},
"y2":{"field":"lo"}}},
{"data":{"name":"tA"},"transform":[{"filter":"datum.s=='red'"}],"mark":{"type":"area","fill":"#ff9aa2","fillOpacity":0.5,"clip":true},
"encoding":{"x":{"field":"x","type":"quantitative","scale":{"domain":[-1960,1960],"nice":false,"zero":false},
"axis":{"orient":"bottom","values":[-1900,-1800,-1700,-1600,-1400,-1300,-1200,-1100,-900,-800,-700,-600,-400,-300,-200,-100,100,200,300,400,600,700,800,900,1100,1200,1300,1400,1600,1700,1800,1900],"labels":false,"domain":false,"grid":false,"tickSize":-3.5,"tickColor":"#555","title":null}},
"y":{"field":"hi","type":"quantitative","scale":{"domain":[140,1420],"nice":false,"zero":false},
"axis":{"orient":"left","values":[150,250,300,350,450,500,550,650,700,750,850,900,950,1050,1100,1150,1250,1300,1350],"labels":false,"domain":false,"grid":false,"tickSize":-3.5,"tickColor":"#555","title":null}},
"y2":{"field":"lo"}}},
{"data":{"name":"tA"},"transform":[{"filter":"datum.s=='lav'"}],"mark":{"type":"area","fill":"#9090f0","fillOpacity":0.45,"clip":true},
"encoding":{"x":{"field":"x","type":"quantitative","scale":{"domain":[-1960,1960],"nice":false,"zero":false},
"axis":{"orient":"top","values":[-1500,-1000,-500,0,500,1000,1500],"labels":false,"domain":false,"grid":false,"tickSize":-7,"tickColor":"#555","title":null}},
"y":{"field":"hi","type":"quantitative","scale":{"domain":[140,1420],"nice":false,"zero":false},
"axis":{"orient":"right","values":[200,400,600,800,1000,1200,1400],"labels":false,"domain":false,"grid":false,"tickSize":-7,"tickColor":"#555","title":null}},
"y2":{"field":"lo"}}},
{"data":{"name":"tA"},"transform":[{"filter":"datum.s=='cyan'"}],"mark":{"type":"area","fill":"#80e0e0","fillOpacity":0.4,"clip":true},
"encoding":{"x":{"field":"x","type":"quantitative","scale":{"domain":[-1960,1960],"nice":false,"zero":false},
"axis":{"orient":"top","values":[-1900,-1800,-1700,-1600,-1400,-1300,-1200,-1100,-900,-800,-700,-600,-400,-300,-200,-100,100,200,300,400,600,700,800,900,1100,1200,1300,1400,1600,1700,1800,1900],"labels":false,"domain":false,"grid":false,"tickSize":-3.5,"tickColor":"#555","title":null}},
"y":{"field":"hi","type":"quantitative","scale":{"domain":[140,1420],"nice":false,"zero":false},
"axis":{"orient":"right","values":[150,250,300,350,450,500,550,650,700,750,850,900,950,1050,1100,1150,1250,1300,1350],"labels":false,"domain":false,"grid":false,"tickSize":-3.5,"tickColor":"#555","title":null}},
"y2":{"field":"lo"}}},
{"data":{"name":"tA"},"transform":[{"filter":"datum.s=='orange'"}],"mark":{"type":"area","fill":"#e69664","fillOpacity":0.3,"clip":true},
"encoding":{"x":{"field":"x","type":"quantitative","scale":{"domain":[-1960,1960],"nice":false,"zero":false},"axis":null},
"y":{"field":"hi","type":"quantitative","scale":{"domain":[140,1420],"nice":false,"zero":false},"axis":null},"y2":{"field":"lo"}}},
{"data":{"name":"tA"},"transform":[{"filter":"datum.s=='black'"}],"mark":{"type":"area","fill":"#303030","fillOpacity":0.3,"clip":true},
"encoding":{"x":{"field":"x","type":"quantitative","scale":{"domain":[-1960,1960],"nice":false,"zero":false},"axis":null},
"y":{"field":"hi","type":"quantitative","scale":{"domain":[140,1420],"nice":false,"zero":false},"axis":null},"y2":{"field":"lo"}}},
{"data":{"name":"tA"},"transform":[{"filter":"datum.s=='green'"}],"mark":{"type":"area","fill":"#40c040","fillOpacity":0.3,"clip":true},
"encoding":{"x":{"field":"x","type":"quantitative","scale":{"domain":[-1960,1960],"nice":false,"zero":false},"axis":null},
"y":{"field":"hi","type":"quantitative","scale":{"domain":[140,1420],"nice":false,"zero":false},"axis":null},"y2":{"field":"lo"}}},
{"data":{"name":"tL"},"transform":[{"filter":"datum.c!='navy' && datum.c!='hg3'"}],"mark":{"type":"line","clip":true,"strokeJoin":"round"},
"encoding":{"x":{"field":"x","type":"quantitative","scale":{"domain":[-1960,1960],"nice":false,"zero":false},"axis":null},
"y":{"field":"y","type":"quantitative","scale":{"domain":[140,1420],"nice":false,"zero":false},"axis":null},
"detail":{"field":"id"},"order":{"value":null},
"color":{"field":"c","type":"nominal","legend":null,"scale":{"domain":["red","crimson","blue","blue2","cyan","orange","black","green","navy","hg2","hg3","lsp"],"range":["#e02828","#c0204c","#2030d8","#3a50c0","#38e0f0","#f09038","#1a1a1a","#40c040","#20207a","#2a9a2a","#2a9a2a","#7a7a7a"]}},
"strokeWidth":{"field":"c","type":"nominal","legend":null,"scale":{"domain":["red","crimson","blue","blue2","cyan","orange","black","green","navy","hg2","hg3","lsp"],"range":[1.5,1.6,1.5,1.5,2.6,1.6,1.3,1.6,2,2,2,1]}}}},
{"data":{"name":"tL"},"transform":[{"filter":"datum.c=='navy' || datum.c=='hg3'"}],"mark":{"type":"line","clip":true,"strokeDash":[4,4],"strokeWidth":2},
"encoding":{"x":{"field":"x","type":"quantitative","scale":{"domain":[-1960,1960],"nice":false,"zero":false},"axis":null},
"y":{"field":"y","type":"quantitative","scale":{"domain":[140,1420],"nice":false,"zero":false},"axis":null},
"detail":{"field":"id"},"order":{"value":null},
"color":{"field":"c","type":"nominal","legend":null,"scale":{"domain":["red","crimson","blue","blue2","cyan","orange","black","green","navy","hg2","hg3","lsp"],"range":["#e02828","#c0204c","#2030d8","#3a50c0","#38e0f0","#f09038","#1a1a1a","#40c040","#20207a","#2a9a2a","#2a9a2a","#7a7a7a"]}}}},
{"data":{"name":"tT"},"mark":{"type":"text","align":"left","baseline":"middle","font":"Liberation Serif","clip":true},
"encoding":{"x":{"field":"x","type":"quantitative","scale":{"domain":[-1960,1960],"nice":false,"zero":false},"axis":null},
"y":{"field":"y","type":"quantitative","scale":{"domain":[140,1420],"nice":false,"zero":false},"axis":null},
"text":{"field":"t"},
"size":{"field":"k","type":"nominal","legend":null,"scale":{"domain":["leg","lab","hg","lsp"],"range":[13.5,15,15,14]}},
"color":{"field":"c","type":"nominal","legend":null,"scale":{"domain":["red","crimson","blue","blue2","cyan","orange","black","green","navy","hg2","hg3","lsp"],"range":["#e02828","#c0204c","#2030d8","#3a50c0","#38e0f0","#f09038","#1a1a1a","#40c040","#20207a","#2a9a2a","#2a9a2a","#7a7a7a"]}}}}
]},
{"width":675,"height":314,
"resolve":{"axis":{"x":"independent","y":"independent"}},
"layer":[
{"data":{"name":"bA"},"transform":[{"filter":"datum.s=='gray'"}],"mark":{"type":"area","fill":"#d6d9dc","clip":true},
"encoding":{"x":{"field":"x","type":"quantitative","scale":{"domain":[-1960,1960],"nice":false,"zero":false},
"axis":{"orient":"bottom","values":[-1500,-1000,-500,0,500,1000,1500],"format":"d","title":"Aₜ[GeV]","domain":false,"grid":false,"tickSize":-7,"tickColor":"#555","labelPadding":12,"labelFont":"Liberation Serif","labelFontSize":20,"labelColor":"#000","titleFont":"Liberation Serif","titleFontSize":26,"titleFontWeight":"normal","titleColor":"#000","titlePadding":6,"labelFlush":false,"labelOverlap":false}},
"y":{"field":"hi","type":"quantitative","scale":{"domain":[260,1790],"nice":false,"zero":false},
"axis":{"orient":"left","values":[400,600,800,1000,1200,1400,1600],"format":"d","title":"√(M²U₃ + M²Q₃) [GeV]","domain":false,"grid":false,"tickSize":-7,"tickColor":"#555","labelPadding":15,"labelFont":"Liberation Serif","labelFontSize":20,"labelColor":"#000","titleFont":"Liberation Serif","titleFontSize":26,"titleFontWeight":"normal","titleColor":"#000","titlePadding":14,"labelFlush":false,"labelOverlap":false}},
"y2":{"field":"lo"}}},
{"data":{"name":"bA"},"transform":[{"filter":"datum.s=='red'"}],"mark":{"type":"area","fill":"#ff9aa2","fillOpacity":0.5,"clip":true},
"encoding":{"x":{"field":"x","type":"quantitative","scale":{"domain":[-1960,1960],"nice":false,"zero":false},
"axis":{"orient":"bottom","values":[-1900,-1800,-1700,-1600,-1400,-1300,-1200,-1100,-900,-800,-700,-600,-400,-300,-200,-100,100,200,300,400,600,700,800,900,1100,1200,1300,1400,1600,1700,1800,1900],"labels":false,"domain":false,"grid":false,"tickSize":-3.5,"tickColor":"#555","title":null}},
"y":{"field":"hi","type":"quantitative","scale":{"domain":[260,1790],"nice":false,"zero":false},
"axis":{"orient":"left","values":[300,350,450,500,550,650,700,750,850,900,950,1050,1100,1150,1250,1300,1350,1450,1500,1550,1650,1700,1750],"labels":false,"domain":false,"grid":false,"tickSize":-3.5,"tickColor":"#555","title":null}},
"y2":{"field":"lo"}}},
{"data":{"name":"bA"},"transform":[{"filter":"datum.s=='lav'"}],"mark":{"type":"area","fill":"#9090f0","fillOpacity":0.45,"clip":true},
"encoding":{"x":{"field":"x","type":"quantitative","scale":{"domain":[-1960,1960],"nice":false,"zero":false},
"axis":{"orient":"top","values":[-1500,-1000,-500,0,500,1000,1500],"labels":false,"domain":false,"grid":false,"tickSize":-7,"tickColor":"#555","title":null}},
"y":{"field":"hi","type":"quantitative","scale":{"domain":[260,1790],"nice":false,"zero":false},
"axis":{"orient":"right","values":[400,600,800,1000,1200,1400,1600],"labels":false,"domain":false,"grid":false,"tickSize":-7,"tickColor":"#555","title":null}},
"y2":{"field":"lo"}}},
{"data":{"name":"bA"},"transform":[{"filter":"datum.s=='cyan'"}],"mark":{"type":"area","fill":"#80e0e0","fillOpacity":0.4,"clip":true},
"encoding":{"x":{"field":"x","type":"quantitative","scale":{"domain":[-1960,1960],"nice":false,"zero":false},
"axis":{"orient":"top","values":[-1900,-1800,-1700,-1600,-1400,-1300,-1200,-1100,-900,-800,-700,-600,-400,-300,-200,-100,100,200,300,400,600,700,800,900,1100,1200,1300,1400,1600,1700,1800,1900],"labels":false,"domain":false,"grid":false,"tickSize":-3.5,"tickColor":"#555","title":null}},
"y":{"field":"hi","type":"quantitative","scale":{"domain":[260,1790],"nice":false,"zero":false},
"axis":{"orient":"right","values":[300,350,450,500,550,650,700,750,850,900,950,1050,1100,1150,1250,1300,1350,1450,1500,1550,1650,1700,1750],"labels":false,"domain":false,"grid":false,"tickSize":-3.5,"tickColor":"#555","title":null}},
"y2":{"field":"lo"}}},
{"data":{"name":"bA"},"transform":[{"filter":"datum.s=='orange'"}],"mark":{"type":"area","fill":"#e69664","fillOpacity":0.3,"clip":true},
"encoding":{"x":{"field":"x","type":"quantitative","scale":{"domain":[-1960,1960],"nice":false,"zero":false},"axis":null},
"y":{"field":"hi","type":"quantitative","scale":{"domain":[260,1790],"nice":false,"zero":false},"axis":null},"y2":{"field":"lo"}}},
{"data":{"name":"bA"},"transform":[{"filter":"datum.s=='b1' || datum.s=='b2'"}],"mark":{"type":"area","fill":"#303030","fillOpacity":0.3,"clip":true},
"encoding":{"x":{"field":"x","type":"quantitative","scale":{"domain":[-1960,1960],"nice":false,"zero":false},"axis":null},
"y":{"field":"hi","type":"quantitative","scale":{"domain":[260,1790],"nice":false,"zero":false},"axis":null},"y2":{"field":"lo"},"detail":{"field":"s"}}},
{"data":{"name":"bA"},"transform":[{"filter":"datum.s=='green'"}],"mark":{"type":"area","fill":"#40c040","fillOpacity":0.3,"clip":true},
"encoding":{"x":{"field":"x","type":"quantitative","scale":{"domain":[-1960,1960],"nice":false,"zero":false},"axis":null},
"y":{"field":"hi","type":"quantitative","scale":{"domain":[260,1790],"nice":false,"zero":false},"axis":null},"y2":{"field":"lo"}}},
{"data":{"name":"bL"},"transform":[{"filter":"datum.c!='navy' && datum.c!='hg3'"}],"mark":{"type":"line","clip":true,"strokeJoin":"round"},
"encoding":{"x":{"field":"x","type":"quantitative","scale":{"domain":[-1960,1960],"nice":false,"zero":false},"axis":null},
"y":{"field":"y","type":"quantitative","scale":{"domain":[260,1790],"nice":false,"zero":false},"axis":null},
"detail":{"field":"id"},"order":{"value":null},
"color":{"field":"c","type":"nominal","legend":null,"scale":{"domain":["red","crimson","blue","blue2","cyan","orange","black","green","navy","hg2","hg3","lsp"],"range":["#e02828","#c0204c","#2030d8","#3a50c0","#38e0f0","#f09038","#1a1a1a","#40c040","#20207a","#2a9a2a","#2a9a2a","#7a7a7a"]}},
"strokeWidth":{"field":"c","type":"nominal","legend":null,"scale":{"domain":["red","crimson","blue","blue2","cyan","orange","black","green","navy","hg2","hg3","lsp"],"range":[1.5,1.6,1.5,1.5,2.6,1.6,1.3,1.6,2,2,2,1]}}}},
{"data":{"name":"bL"},"transform":[{"filter":"datum.c=='navy' || datum.c=='hg3'"}],"mark":{"type":"line","clip":true,"strokeDash":[4,4],"strokeWidth":2},
"encoding":{"x":{"field":"x","type":"quantitative","scale":{"domain":[-1960,1960],"nice":false,"zero":false},"axis":null},
"y":{"field":"y","type":"quantitative","scale":{"domain":[260,1790],"nice":false,"zero":false},"axis":null},
"detail":{"field":"id"},"order":{"value":null},
"color":{"field":"c","type":"nominal","legend":null,"scale":{"domain":["red","crimson","blue","blue2","cyan","orange","black","green","navy","hg2","hg3","lsp"],"range":["#e02828","#c0204c","#2030d8","#3a50c0","#38e0f0","#f09038","#1a1a1a","#40c040","#20207a","#2a9a2a","#2a9a2a","#7a7a7a"]}}}},
{"data":{"name":"bT"},"mark":{"type":"text","align":"left","baseline":"middle","font":"Liberation Serif","clip":true},
"encoding":{"x":{"field":"x","type":"quantitative","scale":{"domain":[-1960,1960],"nice":false,"zero":false},"axis":null},
"y":{"field":"y","type":"quantitative","scale":{"domain":[260,1790],"nice":false,"zero":false},"axis":null},
"text":{"field":"t"},
"size":{"field":"k","type":"nominal","legend":null,"scale":{"domain":["leg","lab","hg","lsp"],"range":[13.5,15,15,14]}},
"color":{"field":"c","type":"nominal","legend":null,"scale":{"domain":["red","crimson","blue","blue2","cyan","orange","black","green","navy","hg2","hg3","lsp"],"range":["#e02828","#c0204c","#2030d8","#3a50c0","#38e0f0","#f09038","#1a1a1a","#40c040","#20207a","#2a9a2a","#2a9a2a","#7a7a7a"]}}}}
]}
]
}
